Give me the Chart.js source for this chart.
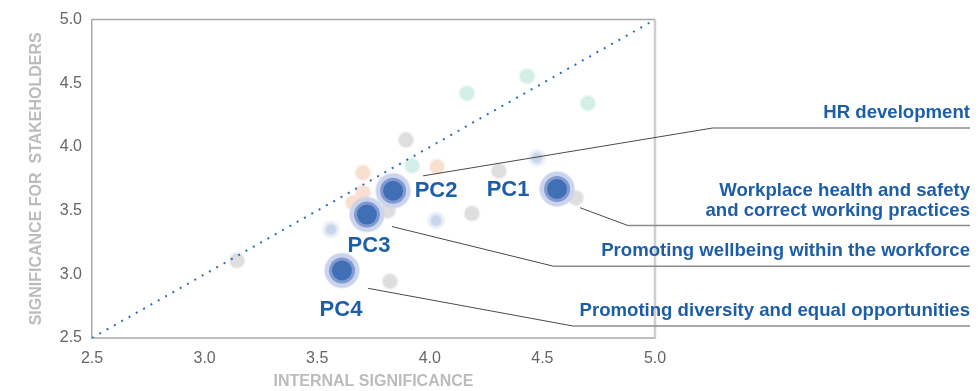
<!DOCTYPE html>
<html>
<head>
<meta charset="utf-8">
<script src="https://cdn.jsdelivr.net/npm/chart.js@4"></script>
<style>
  html, body { margin: 0; padding: 0; background: #ffffff; }
  #wrap { width: 979px; height: 391px; position: relative; }
</style>
</head>
<body>
<div id="wrap"><canvas id="c"></canvas></div>
<script>
// ---- data ----
const axisTicks = [2.5, 3.0, 3.5, 4.0, 4.5, 5.0];
const mainLabels = ['PC1', 'PC2', 'PC3', 'PC4'];
const mainX = [4.565, 3.837, 3.721, 3.610];
const mainY = [3.670, 3.656, 3.469, 3.030];

const grayX = [3.894, 4.307, 4.649, 4.187, 3.823, 3.144, 3.814];
const grayY = [4.055, 3.812, 3.600, 3.477, 2.945, 3.109, 3.500];

const tealX = [4.165, 4.432, 4.702, 3.921];
const tealY = [4.422, 4.555, 4.344, 3.852];

const peachX = [4.032, 3.703, 3.703, 3.659];
const peachY = [3.844, 3.797, 3.640, 3.562];

const lblueX = [4.476, 4.028, 3.561];
const lblueY = [3.914, 3.422, 3.352];

const diagX = [2.5, 5.0];
const diagY = [2.5, 5.0];

const calloutTexts = [
  ['HR development'],
  ['Workplace health and safety', 'and correct working practices'],
  ['Promoting wellbeing within the workforce'],
  ['Promoting diversity and equal opportunities']
];
// start point (near bubble) and elbow, in data units
const calloutStartX = [3.970, 4.667, 3.832, 3.726];
const calloutStartY = [3.773, 3.523, 3.375, 2.890];
const calloutElbowX = [5.253, 4.880, 4.552, 4.636];
const calloutElbowY = [4.148, 3.383, 3.0625, 2.594];

// ---- helpers ----
const pts = (xs, ys) => xs.map((x, i) => ({ x: x, y: ys[i] }));
const BLUE = '#1d5ea9';
const FONT = '"Liberation Sans", Arial, sans-serif';

const calloutPlugin = {
  id: 'callouts',
  afterDraw(chart) {
    const ctx = chart.ctx;
    const xs = chart.scales.x, ys = chart.scales.y;
    const area = chart.chartArea;
    const rightEdge = chart.width - 9;
    ctx.save();
    // top and right frame lines
    ctx.strokeStyle = '#a8a8a8';
    ctx.lineWidth = 1.5;
    ctx.beginPath();
    ctx.moveTo(area.left, area.top);
    ctx.lineTo(area.right, area.top);
    ctx.stroke();
    ctx.strokeStyle = '#cfcfcf';
    ctx.lineWidth = 2.5;
    ctx.beginPath();
    ctx.moveTo(area.right, area.top);
    ctx.lineTo(area.right, area.bottom);
    ctx.stroke();

    // callout lines
    for (let i = 0; i < calloutTexts.length; i++) {
      const sx = xs.getPixelForValue(calloutStartX[i]);
      const sy = ys.getPixelForValue(calloutStartY[i]);
      const ex = xs.getPixelForValue(calloutElbowX[i]);
      const ey = ys.getPixelForValue(calloutElbowY[i]);
      ctx.strokeStyle = '#4a4a4a';
      ctx.lineWidth = 1;
      ctx.beginPath();
      ctx.moveTo(sx, sy);
      ctx.lineTo(ex, ey);
      ctx.stroke();
      ctx.strokeStyle = '#8c8c8c';
      ctx.lineWidth = 1.5;
      ctx.beginPath();
      ctx.moveTo(ex, ey);
      ctx.lineTo(rightEdge, ey);
      ctx.stroke();
      // text
      ctx.fillStyle = BLUE;
      ctx.font = 'bold 18.6px ' + FONT;
      ctx.textAlign = 'right';
      ctx.textBaseline = 'alphabetic';
      const lines = calloutTexts[i];
      for (let j = 0; j < lines.length; j++) {
        const by = ey - 10 - (lines.length - 1 - j) * 20;
        ctx.fillText(lines[j], rightEdge, by);
      }
    }

    // PC labels
    const offs = [[-49, 1], [43, 0], [2, 31], [-1, 39]];
    ctx.font = 'bold 22px ' + FONT;
    ctx.textAlign = 'center';
    ctx.textBaseline = 'middle';
    ctx.fillStyle = BLUE;
    for (let i = 0; i < mainLabels.length; i++) {
      const px = xs.getPixelForValue(mainX[i]) + offs[i][0];
      const py = ys.getPixelForValue(mainY[i]) + offs[i][1];
      ctx.fillText(mainLabels[i], px, py);
    }
    ctx.restore();
  }
};

const bg = (xs, ys, fill, ring, r, order) => ({
  type: 'scatter',
  data: pts(xs, ys),
  backgroundColor: fill,
  borderColor: ring,
  borderWidth: 3,
  pointRadius: r,
  pointHoverRadius: r,
  order: order
});

new Chart(document.getElementById('c'), {
  type: 'scatter',
  data: {
    datasets: [
      {
        type: 'line',
        data: pts(diagX, diagY),
        borderColor: '#2a6fbd',
        borderWidth: 2,
        borderDash: [2, 6.4],
        pointRadius: 0,
        fill: false,
        order: 5
      },
      bg(grayX, grayY, '#dedede', 'rgba(222,222,222,0.45)', 7, 10),
      bg(tealX, tealY, '#d3efe8', 'rgba(211,239,232,0.45)', 7, 10),
      bg(peachX, peachY, '#f9dfcf', 'rgba(249,223,207,0.45)', 7, 10),
      bg(lblueX, lblueY, '#ebeff7', 'rgba(235,239,247,0.5)', 8, 10),
      bg(lblueX, lblueY, '#c9d5ea', 'rgba(201,213,234,0.6)', 4.5, 9),
      {
        data: pts(mainX, mainY),
        backgroundColor: '#cad4ed',
        borderColor: 'rgba(202,212,237,0.5)',
        borderWidth: 2,
        pointRadius: 17,
        pointHoverRadius: 17,
        order: 3
      },
      {
        data: pts(mainX, mainY),
        backgroundColor: '#8199d1',
        borderWidth: 0,
        pointRadius: 13,
        pointHoverRadius: 13,
        order: 2
      },
      {
        data: pts(mainX, mainY),
        backgroundColor: '#416fb6',
        borderWidth: 0,
        pointRadius: 10,
        pointHoverRadius: 10,
        order: 1
      }
    ]
  },
  options: {
    responsive: true,
    maintainAspectRatio: false,
    animation: false,
    events: [],
    layout: { padding: { left: 0, top: 18, right: 324, bottom: 0 } },
    plugins: { legend: { display: false }, tooltip: { enabled: false } },
    scales: {
      x: {
        type: 'linear',
        min: axisTicks[0],
        max: axisTicks[axisTicks.length - 1],
        afterBuildTicks: (s) => { s.ticks = axisTicks.map(v => ({ value: v })); },
        afterFit: (s) => { s.height = 53; },
        grid: { display: false, drawTicks: false },
        border: { display: true, color: '#bdbdbd', width: 2 },
        ticks: {
          padding: 11,
          color: '#666666',
          font: { family: FONT, size: 16 },
          callback: (v) => Number(v).toFixed(1)
        },
        title: {
          display: true,
          text: 'INTERNAL SIGNIFICANCE',
          color: '#bcbcbc',
          padding: { top: 0, bottom: 0 },
          font: { family: FONT, size: 16, weight: 'bold' }
        }
      },
      y: {
        type: 'linear',
        min: axisTicks[0],
        max: axisTicks[axisTicks.length - 1],
        afterBuildTicks: (s) => { s.ticks = axisTicks.map(v => ({ value: v })); },
        afterFit: (s) => { s.width = 92; },
        grid: { display: false, drawTicks: false },
        border: { display: true, color: '#ababab', width: 1.5 },
        ticks: {
          padding: 10,
          color: '#666666',
          font: { family: FONT, size: 16 },
          callback: (v) => Number(v).toFixed(1)
        },
        title: {
          display: true,
          text: 'SIGNIFICANCE FOR  STAKEHOLDERS',
          color: '#bcbcbc',
          padding: { top: 27, bottom: 0 },
          font: { family: FONT, size: 16, weight: 'bold' }
        }
      }
    }
  },
  plugins: [calloutPlugin]
});
</script>
</body>
</html>
